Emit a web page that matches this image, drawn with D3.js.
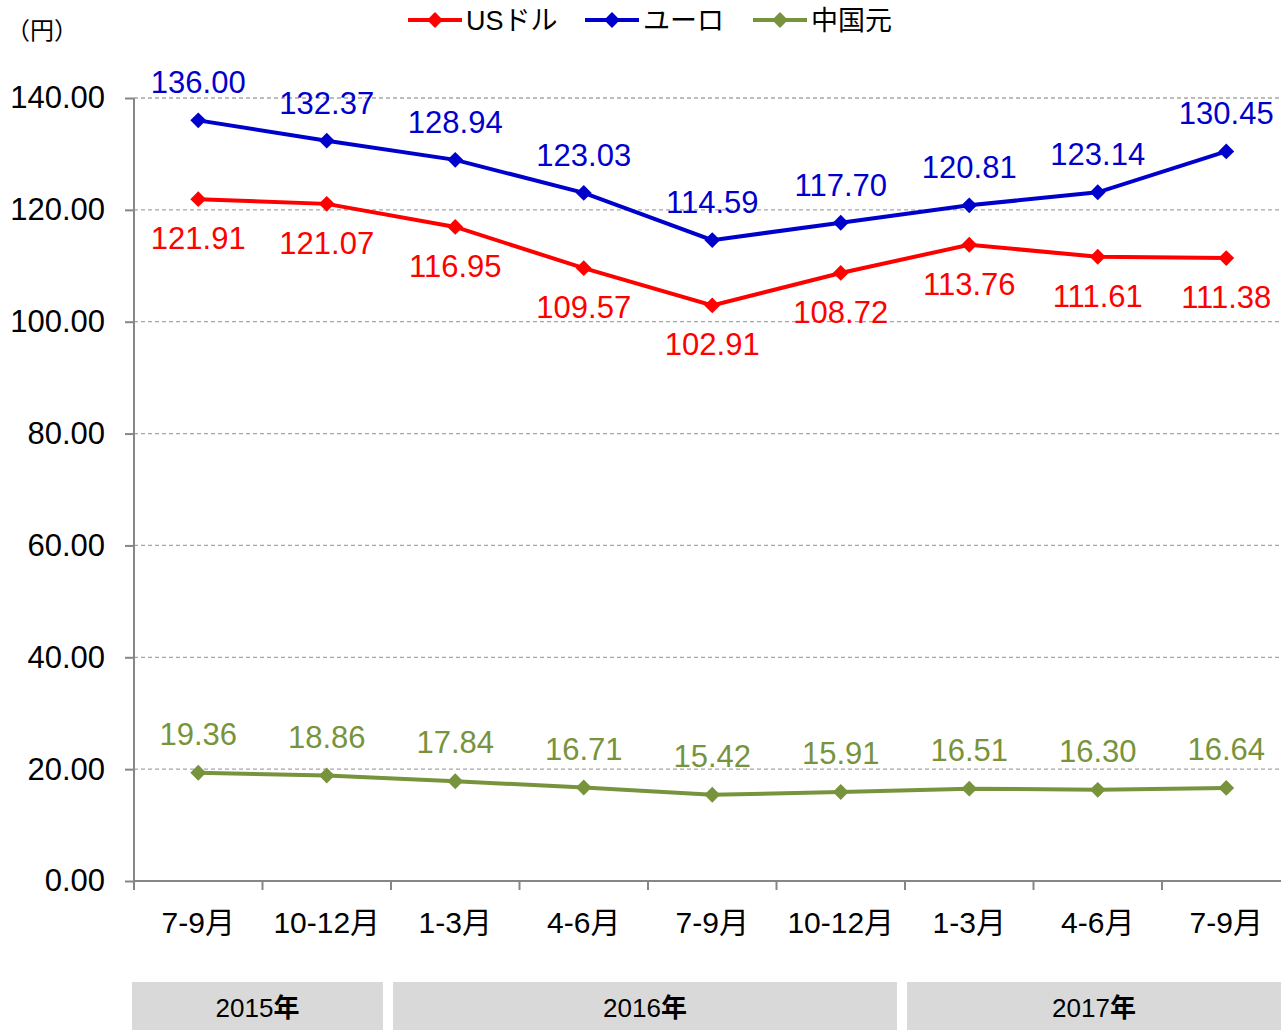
<!DOCTYPE html>
<html>
<head>
<meta charset="utf-8">
<script src="https://cdn.jsdelivr.net/npm/d3@7"></script>
<style>
  body { margin: 0; background: #fff; }
  svg { display: block; font-family: "Liberation Sans", Arial, "Noto Sans CJK JP", sans-serif; }
</style>
</head>
<body>
<script>
var categories = ["7-9月", "10-12月", "1-3月", "4-6月", "7-9月", "10-12月", "1-3月", "4-6月", "7-9月"];
var usd = [121.91, 121.07, 116.95, 109.57, 102.91, 108.72, 113.76, 111.61, 111.38];
var eur = [136.00, 132.37, 128.94, 123.03, 114.59, 117.70, 120.81, 123.14, 130.45];
var cny = [19.36, 18.86, 17.84, 16.71, 15.42, 15.91, 16.51, 16.30, 16.64];
var yTicks = [0, 20, 40, 60, 80, 100, 120, 140];
var years = [{label: "2015", from: 0, to: 2}, {label: "2016", from: 2, to: 6}, {label: "2017", from: 6, to: 9}];

var width = 1281,
    height = 1030;

var series = [
  {name: "USドル", values: usd, color: "#ff0000", dy: 50},
  {name: "ユーロ", values: eur, color: "#0000cc", dy: -27},
  {name: "中国元", values: cny, color: "#77933c", dy: -28}
];

var svg = d3.select("body").append("svg")
    .attr("width", width)
    .attr("height", height);

var x = d3.scaleBand()
    .domain(d3.range(categories.length))
    .range([134, 1290.5]);

var y = d3.scaleLinear()
    .domain([0, 140])
    .range([881, 98]);

// gridlines
svg.append("g").selectAll("line")
    .data(yTicks.slice(1))
  .enter().append("line")
    .attr("x1", 134).attr("x2", width)
    .attr("y1", function(d) { return y(d); })
    .attr("y2", function(d) { return y(d); })
    .attr("stroke", "#a6a6a6")
    .attr("stroke-width", 1.3)
    .attr("stroke-dasharray", "4,3");

// y axis
var yAxis = svg.append("g")
    .attr("transform", "translate(134,0)")
    .call(d3.axisLeft(y).tickValues(yTicks).tickSize(9).tickPadding(20)
      .tickFormat(function(d) { return d.toFixed(2); }));
yAxis.select(".domain").attr("stroke", "#868686").attr("stroke-width", 2).attr("d", "M0,98V881");
yAxis.selectAll(".tick line").attr("stroke", "#868686").attr("stroke-width", 2);
yAxis.selectAll(".tick text")
    .attr("font-size", 31)
    .attr("font-family", "Liberation Sans, Arial, sans-serif")
    .attr("fill", "#000");

// x axis
var bounds = d3.range(categories.length + 1).map(function(i) { return 134 + i * x.step(); });
var xAxis = svg.append("g");
xAxis.append("line")
    .attr("x1", 134).attr("x2", width)
    .attr("y1", 881).attr("y2", 881)
    .attr("stroke", "#868686").attr("stroke-width", 2);
xAxis.selectAll(".tk")
    .data(bounds.filter(function(b) { return b < width; }))
  .enter().append("line")
    .attr("x1", function(d) { return d; }).attr("x2", function(d) { return d; })
    .attr("y1", 881).attr("y2", 890)
    .attr("stroke", "#868686").attr("stroke-width", 2);
xAxis.selectAll("text")
    .data(categories)
  .enter().append("text")
    .attr("x", function(d, i) { return x(i) + x.bandwidth() / 2; })
    .attr("y", 933)
    .attr("text-anchor", "middle")
    .attr("font-size", 30)
    .attr("fill", "#000")
    .text(function(d) { return d; });

// year bands
function bandStart(d) { return d.from === 0 ? 132 : bounds[d.from] + 2; }
function bandEnd(d) { return d.to === categories.length ? width : bounds[d.to] - 8; }
var yb = svg.append("g").selectAll("g")
    .data(years)
  .enter().append("g");
yb.append("rect")
    .attr("x", bandStart)
    .attr("y", 982)
    .attr("width", function(d) { return bandEnd(d) - bandStart(d); })
    .attr("height", 48)
    .attr("fill", "#d9d9d9");
var yt = yb.append("text")
    .attr("x", function(d) { return (bandStart(d) + bandEnd(d)) / 2; })
    .attr("y", 1017)
    .attr("text-anchor", "middle")
    .attr("font-size", 26)
    .attr("fill", "#000");
yt.append("tspan").text(function(d) { return d.label; });
yt.append("tspan").attr("font-weight", "bold").text("年");

// lines
var line = d3.line()
    .x(function(d, i) { return x(i) + x.bandwidth() / 2; })
    .y(function(d) { return y(d); });

var diamond = d3.symbol().type(d3.symbolDiamond2).size(160);

series.forEach(function(s) {
  var g = svg.append("g");
  g.append("path")
      .attr("d", line(s.values))
      .attr("fill", "none")
      .attr("stroke", s.color)
      .attr("stroke-width", 4);
  g.selectAll("path.m")
      .data(s.values)
    .enter().append("path")
      .attr("class", "m")
      .attr("d", diamond)
      .attr("transform", function(d, i) {
        return "translate(" + (x(i) + x.bandwidth() / 2) + "," + y(d) + ")";
      })
      .attr("fill", s.color);
  g.selectAll("text")
      .data(s.values)
    .enter().append("text")
      .attr("x", function(d, i) { return x(i) + x.bandwidth() / 2; })
      .attr("y", function(d) { return y(d) + s.dy; })
      .attr("text-anchor", "middle")
      .attr("font-size", 31)
      .attr("fill", s.color)
      .text(function(d) { return d.toFixed(2); });
});

// unit label
svg.append("text")
    .attr("x", 6).attr("y", 39)
    .attr("font-size", 24)
    .attr("font-family", "Noto Sans CJK JP, sans-serif")
    .attr("fill", "#000")
    .text("（円）");

// legend
var legendX = [408, 585, 753];
var lg = svg.append("g").selectAll("g")
    .data(series)
  .enter().append("g")
    .attr("transform", function(d, i) { return "translate(" + legendX[i] + ",20)"; });
lg.append("line")
    .attr("x1", 0).attr("x2", 54)
    .attr("stroke", function(d) { return d.color; })
    .attr("stroke-width", 4);
lg.append("path")
    .attr("d", diamond)
    .attr("transform", "translate(27,0)")
    .attr("fill", function(d) { return d.color; });
lg.append("text")
    .attr("x", 58)
    .attr("y", 10)
    .attr("font-size", 27)
    .attr("fill", "#000")
    .text(function(d) { return d.name; });
</script>
</body>
</html>
